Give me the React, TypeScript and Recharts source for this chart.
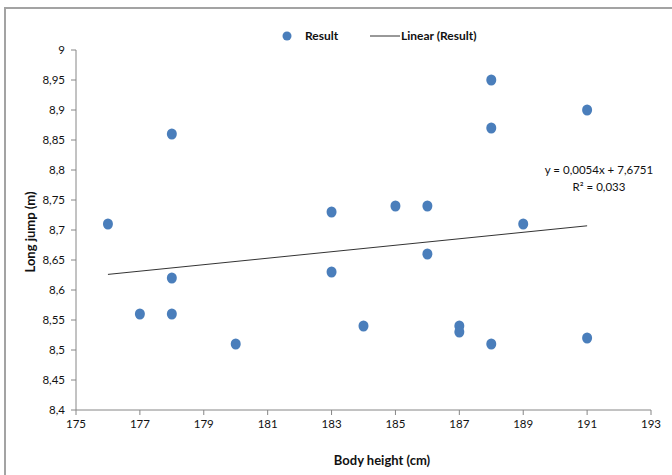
import React from 'react';
import { ScatterChart, Scatter, XAxis, YAxis, Legend, Customized } from 'recharts';

const heights = [176, 177, 178, 178, 178, 180, 183, 183, 184, 185, 186, 186, 187, 187, 188, 188, 188, 189, 191, 191];
const jumps = [8.71, 8.56, 8.86, 8.62, 8.56, 8.51, 8.73, 8.63, 8.54, 8.74, 8.74, 8.66, 8.54, 8.53, 8.95, 8.87, 8.51, 8.71, 8.9, 8.52];
const trendX = [176, 191];
const trendY = [8.626, 8.707];
const xTicks = [175, 177, 179, 181, 183, 185, 187, 189, 191, 193];
const yTicks = [8.4, 8.45, 8.5, 8.55, 8.6, 8.65, 8.7, 8.75, 8.8, 8.85, 8.9, 8.95, 9];
const equationLines = ['y = 0,0054x + 7,6751', 'R² = 0,033'];

const points = heights.map((h, i) => ({ x: h, y: jumps[i] }));
const trend = trendX.map((x, i) => ({ x, y: trendY[i] }));

const FONT = 'Lato, "Open Sans", sans-serif';
const DOT = '#4a7ebb';

const fmt = (v: number) => String(v).replace('.', ',');

const renderLegend = () => (
  <svg width={220} height={20} style={{ display: 'block' }}>
    <circle cx={7} cy={9} r={4.5} fill={DOT} />
    <text x={25} y={13} fontFamily={FONT} fontSize={12} fontWeight={700} fill="#111">Result</text>
    <line x1={90} y1={9} x2={120} y2={9} stroke="#333" strokeWidth={1} />
    <text x={121} y={13} fontFamily={FONT} fontSize={12} fontWeight={700} fill="#111">Linear (Result)</text>
  </svg>
);

const Equation = () => (
  <g>
    <text x={599} y={174} textAnchor="middle" fontFamily={FONT} fontSize={11.5} fill="#111">{equationLines[0]}</text>
    <text x={599} y={191} textAnchor="middle" fontFamily={FONT} fontSize={11.5} fill="#111">{equationLines[1]}</text>
  </g>
);

export default function App() {
  return (
    <div style={{ position: 'absolute', left: 0, top: 0, width: 672, height: 475, overflow: 'hidden', background: '#fff' }}>
      <div style={{ position: 'absolute', left: 4, top: 7, width: 720, height: 520, border: '2px solid #a3a3a3', boxSizing: 'border-box' }} />
      <div style={{ position: 'absolute', left: 0, top: 0 }}>
        <ScatterChart width={672} height={475} margin={{ top: 30, right: 21, bottom: 0, left: 0 }}>
          <XAxis
            type="number"
            dataKey="x"
            domain={[175, 193]}
            ticks={xTicks}
            interval={0}
            height={65}
            tickSize={5}
            tickMargin={5}
            stroke="#868686"
            tick={{ fill: '#111', fontSize: 11.5, fontFamily: FONT }}
            allowDataOverflow
            label={{
              content: () => (
                <text x={382} y={465} textAnchor="middle" fontFamily={FONT} fontSize={13} fontWeight={700} fill="#111">Body height (cm)</text>
              ),
            }}
          />
          <YAxis
            type="number"
            dataKey="y"
            domain={[8.4, 9]}
            ticks={yTicks}
            interval={0}
            width={76}
            tickSize={5}
            tickMargin={6}
            stroke="#868686"
            tickFormatter={fmt}
            tick={{ fill: '#111', fontSize: 11.5, fontFamily: FONT }}
            allowDataOverflow
            label={{
              content: () => (
                <text x={0} y={0} transform="translate(35,232) rotate(-90)" textAnchor="middle" fontFamily={FONT} fontSize={13} fontWeight={700} fill="#111">Long jump (m)</text>
              ),
            }}
          />
          <Legend
            layout="vertical"
            align="center"
            verticalAlign="top"
            content={renderLegend}
            wrapperStyle={{ position: 'absolute', top: 27, left: 280, width: 220, height: 20 }}
          />
          <Scatter name="Result" data={points} fill={DOT} isAnimationActive={false}
            shape={(p: any) => <ellipse cx={p.cx} cy={p.cy} rx={5} ry={5.5} fill={DOT} />} />
          <Scatter name="Linear (Result)" data={trend} isAnimationActive={false} legendType="line"
            line={{ stroke: '#333', strokeWidth: 1 }} shape={() => <g />} />
          <Customized component={Equation} />
        </ScatterChart>
      </div>
    </div>
  );
}
